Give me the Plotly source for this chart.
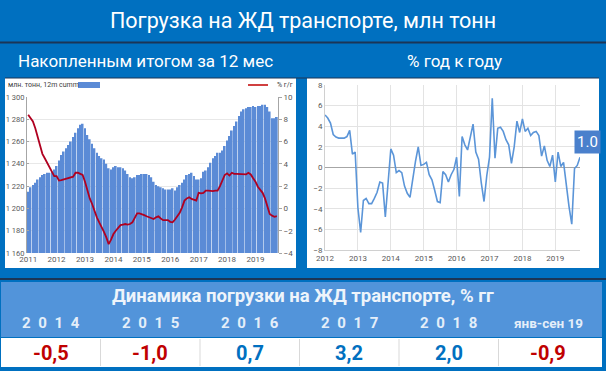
import plotly.graph_objects as go

W, H = 606, 371

# ---------------- data ----------------
left_year_labels = ["2011", "2012", "2013", "2014", "2015", "2016", "2017", "2018", "2019"]
left_y_ticks = [1160, 1180, 1200, 1220, 1240, 1260, 1280, 1300]
left_y_ticklabels = ["1 160", "1 180", "1 200", "1 220", "1 240", "1 260", "1 280", "1 300"]
right_y_ticks_pct = [-4, -2, 0, 2, 4, 6, 8, 10]

# 12m cumulative loading, mln t (Jan 2011 - Oct 2019)
cumm_mt = [
    1215, 1219, 1221, 1223, 1226, 1228, 1230, 1231, 1232, 1232, 1233, 1235,
    1238, 1243, 1248, 1251, 1254, 1257, 1260, 1264, 1268, 1272, 1275, 1276,
    1272, 1266, 1262, 1258, 1254, 1250, 1247, 1245, 1244, 1240, 1236, 1235,
    1237, 1238, 1237, 1237, 1236, 1234, 1231, 1228, 1227, 1228, 1230, 1230,
    1231, 1231, 1231, 1230, 1228, 1224, 1221, 1220, 1219, 1218, 1217, 1217,
    1217, 1218, 1216, 1219, 1221, 1223, 1226, 1230, 1231, 1232, 1229, 1226,
    1226, 1227, 1233, 1234, 1237, 1241, 1245, 1247, 1250, 1250, 1252, 1256,
    1261, 1265, 1270, 1274, 1278, 1283, 1287, 1289, 1290, 1291, 1291, 1292,
    1291, 1292, 1292, 1293, 1293, 1291, 1287, 1281, 1281, 1282,
]
# % y/y of 12m cumulative
cumm_yoy_pct = [
    8.4, 8.1, 7.8, 7.2, 6.4, 5.6, 4.9, 4.5, 4.1, 3.8, 3.4, 2.9,
    2.9, 2.5, 2.55, 2.6, 2.7, 2.7, 2.75, 2.85, 3.2, 3.2, 3.1, 3.0,
    2.4, 1.6, 0.9, 0.4, -0.3, -0.8, -1.25, -1.65, -2.1, -2.6, -3.2, -2.8,
    -2.3, -2.0, -1.75, -1.5, -1.45, -1.4, -1.45, -1.4, -1.25, -0.8, -0.45, -0.45,
    -0.5, -0.6, -0.7, -0.8, -0.9, -0.95, -0.8, -0.7, -0.9, -1.05, -1.05, -1.05,
    -1.2, -1.25, -1.0, -0.7, -0.4, 0.1, 0.7, 0.9, 1.0, 0.85, 0.75, 0.7,
    1.4, 1.35, 1.4, 1.6, 1.6, 1.55, 1.55, 1.6, 1.6, 2.0, 2.5, 3.0,
    3.15, 2.95, 3.2, 3.1, 3.1, 3.1, 3.1, 3.1, 3.05, 3.2, 3.05, 2.7,
    2.4, 1.95, 1.7, 1.4, 0.9, 0.1, -0.5, -0.65, -0.75, -0.7,
]

right_year_labels = ["2012", "2013", "2014", "2015", "2016", "2017", "2018", "2019"]
right_y_ticks = [-8, -6, -4, -2, 0, 2, 4, 6, 8]
# monthly % y/y (Jan 2012 - Oct 2019)
monthly_yoy_pct = [
    5.1, 4.8, 4.3, 3.2, 2.95, 2.85, 2.85, 2.85, 3.0, 3.6, 1.3, 1.5,
    -3.9, -6.3, -3.2, -3.0, -3.5, -3.5, -3.0, -2.4, -1.4, -1.5, -4.8, -1.0,
    1.8, 1.2, -0.5, -0.3, -0.5, -1.8, -2.5, -2.9, -1.0, 0.6, 2.0, 0.2,
    0.3, 0.5, -0.7, -1.2, -2.2, -3.3, -3.4, -0.4, -0.7, -1.4, -0.7, -0.2,
    1.0, -2.8, 3.0, 2.2, 1.7, 3.0, 4.2, 1.5, 0.8, -1.5, -3.3, -0.8,
    1.0, 6.7, 0.9, 3.8, 3.9, 3.5, 2.7, 2.2, 0.4, 2.0, 4.5, 3.4,
    4.7, 3.5, 3.8, 3.1, 3.4, 3.5, 3.1, 1.1, 2.1, 0.7, 0.1, 1.2,
    -1.4, 1.5, 0.1, 0.5, -1.8, -3.8, -5.5, -0.1, 0.2, 1.0,
]

table_periods = ["2014", "2015", "2016", "2017", "2018", "янв-сен 19"]
table_values = [-0.5, -1.0, 0.7, 3.2, 2.0, -0.9]

title_text = "Погрузка на ЖД транспорте, млн тонн"
sub_left = "Накопленным итогом за 12 мес"
sub_right = "% год к году"
table_title = "Динамика погрузки на ЖД транспорте, % гг"

# ---------------- helpers ----------------
def px(x):
    return x / W

def py(y):
    return 1 - y / H

BG = "#0070C0"
FONT = "Roboto"
shapes = []
annotations = []

def rect(x0, y0, x1, y1, color):
    shapes.append(dict(type="rect", xref="paper", yref="paper",
                       x0=px(x0), x1=px(x1), y0=py(y1), y1=py(y0),
                       fillcolor=color, layer="below", line=dict(width=0)))

def hline(x0, x1, y, color, width):
    shapes.append(dict(type="line", xref="paper", yref="paper",
                       x0=px(x0), x1=px(x1), y0=py(y), y1=py(y),
                       line=dict(color=color, width=width), layer="above"))

def vline(x, y0, y1, color, width):
    shapes.append(dict(type="line", xref="paper", yref="paper",
                       x0=px(x), x1=px(x), y0=py(y0), y1=py(y1),
                       line=dict(color=color, width=width), layer="above"))

def text(x, y, s, size, color="white", bold=False, xanchor="center", family=FONT):
    annotations.append(dict(xref="paper", yref="paper", x=px(x), y=py(y),
                            text=f"<b>{s}</b>" if bold else s, showarrow=False,
                            xanchor=xanchor, yanchor="middle",
                            font=dict(family=family, size=size, color=color)))

# panels
rect(5, 78, 296, 268, "white")
rect(307, 78, 599, 268, "white")
hline(0, 606, 42.5, "#1B3556", 2)
hline(5, 599, 78, "#1B3556", 1)
hline(0, 606, 279, "#1B3556", 2)

# headings
text(303, 21, title_text, 21.5)
text(145, 61, sub_left, 17)
text(454, 61, sub_right, 17)

# left legend
text(6, 85, "млн. тонн, 12m cumm", 7, color="#404040", xanchor="left")
rect(78, 82, 100, 88, "#5B8BD6")
hline(248, 268, 85, "#C00000", 1.5)
text(275, 85, "% г/г", 7, color="#404040", xanchor="left")

# table
TBL_BAND = "#5294DA"
TX0, TX1 = 1, 598
rect(TX0, 282, 602, 337, TBL_BAND)
rect(TX0, 338, 602, 367, "white")
text(303, 296, table_title, 18.5, color="#EEF4FB", bold=True)
col_w = (TX1 - TX0) / len(table_periods)
for i, (p, v) in enumerate(zip(table_periods, table_values)):
    cx = TX0 + col_w * (i + 0.5)
    if p.isdigit():
        label = "\u2002".join(p)
        text(cx, 323, label, 15, color="#E4EEF9", bold=True)
    else:
        text(cx, 323, p, 13.5, color="#E4EEF9", bold=True)
    vs = f"{v:.1f}".replace(".", ",")
    col = "#C00000" if v < 0 else "#0070C0"
    text(cx, 353, vs, 20, color=col, bold=True)
    if i > 0:
        vline(TX0 + col_w * i, 339, 366, "#D9D9D9", 1)

# ---------------- traces ----------------
n_left = len(cumm_mt)
idx_left = list(range(n_left))
idx_right = list(range(len(monthly_yoy_pct)))

fig = go.Figure()
fig.add_trace(go.Bar(x=idx_left, y=cumm_mt, marker=dict(color="#5B8BD6", line=dict(width=0)),
                     xaxis="x", yaxis="y", showlegend=False, hoverinfo="skip"))
fig.add_trace(go.Scatter(x=idx_left, y=cumm_yoy_pct, mode="lines",
                         line=dict(color="#B00020", width=1.8),
                         xaxis="x", yaxis="y2", showlegend=False, hoverinfo="skip"))
fig.add_trace(go.Scatter(x=idx_right, y=monthly_yoy_pct, mode="lines",
                         line=dict(color="#5B95D8", width=1.6),
                         xaxis="x2", yaxis="y3", showlegend=False, hoverinfo="skip"))

annotations.append(dict(x=idx_right[-1], y=monthly_yoy_pct[-1], xref="x2", yref="y3",
                        text=f"{monthly_yoy_pct[-1]:.1f}", showarrow=False,
                        xshift=7, yshift=15, bgcolor="#4A80CC",
                        font=dict(family=FONT, size=15, color="white"),
                        borderpad=2))

tickfont = dict(family=FONT, size=8, color="#595959")
tickfont_l = dict(family=FONT, size=7.5, color="#595959")

fig.update_layout(
    width=W, height=H,
    margin=dict(l=0, r=0, t=0, b=0, autoexpand=False),
    paper_bgcolor=BG, plot_bgcolor="rgba(0,0,0,0)",
    bargap=0.28,
    shapes=shapes, annotations=annotations,
    xaxis=dict(domain=[px(27), px(278)], range=[-0.5, n_left - 0.5],
               tickvals=[12 * i for i in range(len(left_year_labels))],
               ticktext=left_year_labels, tickfont=tickfont, ticks="",
               showgrid=False, zeroline=False, showline=False, anchor="y",
               automargin=False),
    yaxis=dict(domain=[py(253), py(97)], range=[1160, 1300],
               tickvals=left_y_ticks, ticktext=left_y_ticklabels,
               tickfont=tickfont_l, ticks="inside", ticklen=2, tickcolor="#A6A6A6",
               showgrid=True, gridcolor="#E8E8E8", zeroline=False,
               showline=True, linecolor="#A6A6A6", anchor="x", automargin=False),
    yaxis2=dict(overlaying="y", side="right", range=[-4, 10],
                tickvals=right_y_ticks_pct, tickfont=tickfont,
                ticks="outside", ticklen=3, tickcolor="#A6A6A6",
                showgrid=False, zeroline=False, showline=True, linecolor="#A6A6A6",
                anchor="x", automargin=False),
    xaxis2=dict(domain=[px(325), px(580)], range=[0, len(monthly_yoy_pct) - 1],
                tickvals=[12 * i for i in range(len(right_year_labels))],
                ticktext=right_year_labels, tickfont=tickfont, ticks="",
                showgrid=True, gridcolor="#E3E3E3", zeroline=False,
                showline=True, linecolor="#D0D0D0", anchor="y3", automargin=False),
    yaxis3=dict(domain=[py(250), py(85)], range=[-8, 8],
                tickvals=right_y_ticks, tickfont=tickfont, ticks="",
                showgrid=True, gridcolor="#E3E3E3",
                zeroline=True, zerolinecolor="#A6A6A6", zerolinewidth=1,
                showline=True, linecolor="#D0D0D0", anchor="x2", automargin=False),
)

fig.write_html("out.html", config={"displayModeBar": False},
               post_script="document.body.style.margin='0';document.body.style.padding='0';")
